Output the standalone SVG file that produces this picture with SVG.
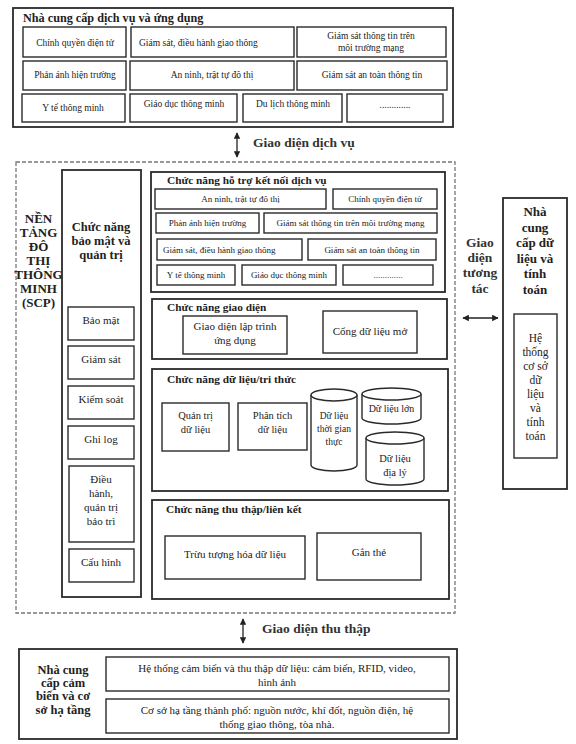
<svg xmlns="http://www.w3.org/2000/svg" width="576" height="744" viewBox="0 0 576 744">
<defs>
<marker id="ah" viewBox="0 0 10 10" refX="9" refY="5" markerWidth="5" markerHeight="5" orient="auto-start-reverse">
<path d="M0,0 L10,5 L0,10 z" fill="#222"/>
</marker>
<style>
text{font-family:"Liberation Serif","Times New Roman",serif;fill:#222}
.b{fill:#fff;stroke:#2a2a2a;stroke-width:1.4}
.sec{fill:#fff;stroke:#2a2a2a;stroke-width:1.8}
.dash{fill:none;stroke:#777;stroke-width:1.3;stroke-dasharray:4 2}
.t9{font-size:9.5px}
.t8{font-size:9px}
.t11{font-size:11px}
.t10{font-size:10px}
.h{font-weight:bold;font-size:11.3px}
.hb{font-weight:bold;font-size:13px}
.lab{font-weight:bold;font-size:13.5px;fill:#333}
.m{text-anchor:middle}
.con{stroke:#222;stroke-width:1.3;fill:none}
</style>
</defs>
<rect width="576" height="744" fill="#fff"/>

<g id="service-providers">
<rect class="b" x="13" y="8" width="440" height="119" style="stroke-width:1.8"/>
<text class="h" x="23" y="22" style="font-size:12.2px">Nhà cung cấp dịch vụ và ứng dụng</text>
<rect class="b" x="23" y="27" width="103" height="30"/>
<text class="t9 m" x="75" y="46">Chính quyền điện tử</text>
<rect class="b" x="131" y="27" width="163" height="30"/>
<text class="t9" x="139" y="46">Giám sát, điều hành giao thông</text>
<rect class="b" x="297" y="27" width="149" height="30"/>
<text class="t9 m" x="371" y="39">Giám sát thông tin trên</text>
<text class="t9 m" x="371" y="51">môi trường mạng</text>
<rect class="b" x="23" y="61" width="103" height="29"/>
<text class="t9 m" x="75" y="78">Phản ánh hiện trường</text>
<rect class="b" x="130" y="61" width="164" height="29"/>
<text class="t9 m" x="212" y="78">An ninh, trật tự đô thị</text>
<rect class="b" x="297" y="61" width="150" height="29"/>
<text class="t9 m" x="372" y="78">Giám sát an toàn thông tin</text>
<rect class="b" x="22" y="94" width="103" height="28"/>
<text class="t9 m" x="73" y="111">Y tế thông minh</text>
<rect class="b" x="130" y="94" width="107" height="28"/>
<text class="t9 m" x="184" y="107">Giáo dục thông minh</text>
<rect class="b" x="243" y="94" width="99" height="28"/>
<text class="t9 m" x="293" y="107">Du lịch thông minh</text>
<rect class="b" x="347" y="94" width="96" height="28"/>
<text class="t9 m" x="395" y="108">.............</text>
</g>

<g id="scp-platform">
<rect class="dash" x="16" y="162" width="439" height="451"/>
<text class="hb m" x="38.5" y="223">NỀN</text>
<text class="hb m" x="38.5" y="237">TẢNG</text>
<text class="hb m" x="38.5" y="251">ĐÔ</text>
<text class="hb m" x="38.5" y="265">THỊ</text>
<text class="hb m" x="38.5" y="279">THÔNG</text>
<text class="hb m" x="38.5" y="293">MINH</text>
<text class="hb m" x="38.5" y="307">(SCP)</text>
</g>

<g id="security-management">
<rect class="sec" x="62" y="170" width="79" height="427"/>
<text class="hb m" x="101" y="231" style="font-size:12.5px">Chức năng</text>
<text class="hb m" x="101" y="245" style="font-size:12.5px">bảo mật và</text>
<text class="hb m" x="101" y="259" style="font-size:12.5px">quản trị</text>
<rect class="b" x="68" y="307" width="66" height="33"/>
<text class="t11 m" x="101" y="324">Bảo mật</text>
<rect class="b" x="68" y="346" width="66" height="33"/>
<text class="t11 m" x="101" y="363">Giám sát</text>
<rect class="b" x="68" y="386" width="66" height="33"/>
<text class="t11 m" x="101" y="403">Kiểm soát</text>
<rect class="b" x="68" y="426" width="66" height="33"/>
<text class="t11 m" x="101" y="443">Ghi log</text>
<rect class="b" x="69" y="466" width="65" height="76"/>
<text class="t11 m" x="101" y="483">Điều</text>
<text class="t11 m" x="101" y="497">hành,</text>
<text class="t11 m" x="101" y="511">quản trị</text>
<text class="t11 m" x="101" y="525">bảo trì</text>
<rect class="b" x="69" y="549" width="65" height="33"/>
<text class="t11 m" x="101" y="566">Cấu hình</text>
</g>

<g id="service-support">
<rect class="sec" x="151" y="172" width="294" height="120"/>
<text class="h" x="167" y="184">Chức năng hỗ trợ kết nối dịch vụ</text>
<rect class="b" x="155" y="189" width="171" height="20"/>
<text class="t8 m" x="240.5" y="202">An ninh, trật tự đô thị</text>
<rect class="b" x="333" y="189" width="104" height="20"/>
<text class="t8 m" x="385" y="202">Chính quyền điện tử</text>
<rect class="b" x="156" y="213" width="103" height="20"/>
<text class="t8 m" x="207.5" y="226">Phản ánh hiện trường</text>
<rect class="b" x="264" y="213" width="173" height="20"/>
<text class="t8 m" x="350.5" y="226">Giám sát thông tin trên môi trường mạng</text>
<rect class="b" x="157" y="239" width="145" height="21"/>
<text class="t8" x="163" y="253">Giám sát, điều hành giao thông</text>
<rect class="b" x="308" y="239" width="128" height="21"/>
<text class="t8 m" x="372" y="253">Giám sát an toàn thông tin</text>
<rect class="b" x="157" y="265" width="78" height="20"/>
<text class="t8 m" x="196" y="278">Y tế thông minh</text>
<rect class="b" x="242" y="265" width="94" height="20"/>
<text class="t8 m" x="289" y="278">Giáo dục thông minh</text>
<rect class="b" x="343" y="265" width="90" height="20"/>
<text class="t8 m" x="388" y="278">.............</text>
</g>

<g id="interface-function">
<rect class="sec" x="152" y="299" width="295" height="60"/>
<text class="h" x="167" y="311">Chức năng giao diện</text>
<rect class="b" x="183" y="316" width="104" height="38"/>
<text class="t11 m" x="235" y="330">Giao diện lập trình</text>
<text class="t11 m" x="235" y="344">ứng dụng</text>
<rect class="b" x="323" y="311" width="94" height="42"/>
<text class="t11 m" x="370" y="335">Cổng dữ liệu mở</text>
</g>

<g id="data-knowledge">
<rect class="sec" x="152" y="369" width="296" height="122"/>
<text class="h" x="167" y="383">Chức năng dữ liệu/tri thức</text>
<rect class="b" x="162" y="403" width="67" height="48"/>
<text class="t10 m" x="195.5" y="419" style="font-size:10.5px">Quản trị</text>
<text class="t10 m" x="195.5" y="433" style="font-size:10.5px">dữ liệu</text>
<rect class="b" x="238" y="403" width="69" height="47"/>
<text class="t10 m" x="272.5" y="419" style="font-size:10.5px">Phân tích</text>
<text class="t10 m" x="272.5" y="433" style="font-size:10.5px">dữ liệu</text>
<path class="b" d="M311,395 L311,465 A23,6 0 0 0 357,465 L357,395"/>
<ellipse class="b" cx="334" cy="395" rx="23" ry="6"/>
<text class="t9 m" x="334" y="419">Dữ liệu</text>
<text class="t9 m" x="334" y="432">thời gian</text>
<text class="t9 m" x="334" y="445">thực</text>
<path class="b" d="M362,394 L362,418 A29.5,6 0 0 0 421,418 L421,394"/>
<ellipse class="b" cx="391.5" cy="394" rx="29.5" ry="6"/>
<text class="t10 m" x="391.5" y="412">Dữ liệu lớn</text>
<path class="b" d="M366,438 L366,479 A29,6 0 0 0 424,479 L424,438"/>
<ellipse class="b" cx="395" cy="438" rx="29" ry="6"/>
<text class="t10 m" x="395" y="462" style="font-size:10.5px">Dữ liệu</text>
<text class="t10 m" x="395" y="476" style="font-size:10.5px">địa lý</text>
</g>

<g id="collection-link">
<rect class="sec" x="152" y="500" width="297" height="99"/>
<text class="h" x="166" y="513">Chức năng thu thập/liên kết</text>
<rect class="b" x="165" y="536" width="140" height="43"/>
<text class="t11 m" x="235" y="558">Trừu tượng hóa dữ liệu</text>
<rect class="b" x="317" y="533" width="104" height="47"/>
<text class="t11 m" x="369" y="556">Gắn thẻ</text>
</g>

<g id="data-compute-provider">
<rect class="sec" x="503" y="198" width="64" height="291"/>
<text class="hb m" x="535" y="216">Nhà</text>
<text class="hb m" x="535" y="232">cung</text>
<text class="hb m" x="535" y="247">cấp dữ</text>
<text class="hb m" x="535" y="263">liệu và</text>
<text class="hb m" x="535" y="278">tính</text>
<text class="hb m" x="535" y="294">toán</text>
<rect class="b" x="514" y="314" width="43" height="144"/>
<text class="t11 m" x="535.5" y="342" style="font-size:11.5px">Hệ</text>
<text class="t11 m" x="535.5" y="356" style="font-size:11.5px">thống</text>
<text class="t11 m" x="535.5" y="370" style="font-size:11.5px">cơ sở</text>
<text class="t11 m" x="535.5" y="384" style="font-size:11.5px">dữ</text>
<text class="t11 m" x="535.5" y="398" style="font-size:11.5px">liệu</text>
<text class="t11 m" x="535.5" y="412" style="font-size:11.5px">và</text>
<text class="t11 m" x="535.5" y="426" style="font-size:11.5px">tính</text>
<text class="t11 m" x="535.5" y="440" style="font-size:11.5px">toán</text>
</g>

<g id="sensor-infra-provider">
<rect class="b" x="19" y="649" width="438" height="90" style="stroke-width:1.8"/>
<text class="hb m" x="63" y="674" style="font-size:12.5px">Nhà cung</text>
<text class="hb m" x="63" y="687" style="font-size:12.5px">cấp cảm</text>
<text class="hb m" x="63" y="700" style="font-size:12.5px">biến và cơ</text>
<text class="hb m" x="63" y="714" style="font-size:12.5px">sở hạ tầng</text>
<rect class="b" x="106" y="657" width="343" height="34"/>
<text class="t11 m" x="277" y="672">Hệ thống cảm biến và thu thập dữ liệu: cảm biến, RFID, video,</text>
<text class="t11 m" x="277" y="686">hình ảnh</text>
<rect class="b" x="106" y="699" width="343" height="34"/>
<text class="t11 m" x="277" y="714">Cơ sở hạ tầng thành phố: nguồn nước, khí đốt, nguồn điện, hệ</text>
<text class="t11 m" x="277" y="728">thống giao thông, tòa nhà.</text>
</g>

<g id="connectors">
<line class="con" x1="237" y1="133" x2="237" y2="157" marker-start="url(#ah)" marker-end="url(#ah)"/>
<text class="lab" x="253" y="147">Giao diện dịch vụ</text>
<line class="con" x1="243" y1="619" x2="243" y2="643" marker-start="url(#ah)" marker-end="url(#ah)"/>
<text class="lab" x="262" y="633">Giao diện thu thập</text>
<line class="con" x1="463" y1="318" x2="498" y2="318" marker-start="url(#ah)" marker-end="url(#ah)"/>
<text class="lab m" x="480" y="247">Giao</text>
<text class="lab m" x="480" y="262">diện</text>
<text class="lab m" x="480" y="277">tương</text>
<text class="lab m" x="480" y="293">tác</text>
</g>
</svg>
